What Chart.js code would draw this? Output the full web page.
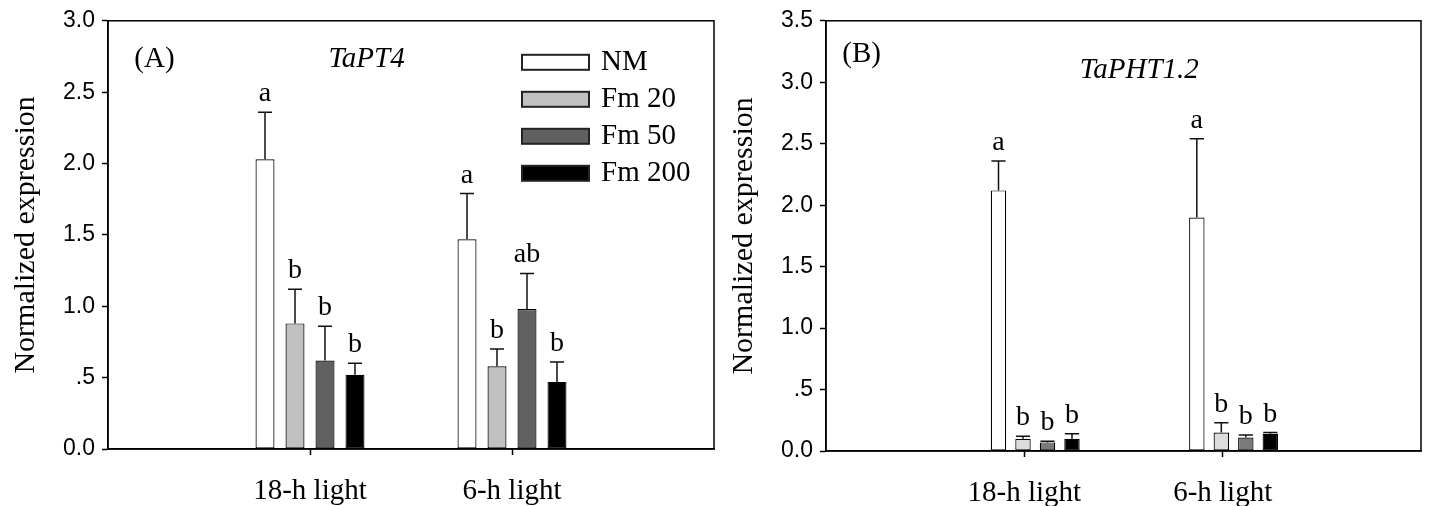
<!DOCTYPE html>
<html>
<head>
<meta charset="utf-8">
<title>TaPT4 / TaPHT1.2 expression</title>
<script src="https://cdn.jsdelivr.net/npm/chart.js@4.4.1/dist/chart.umd.min.js"></script>
<style>
  html, body { margin: 0; padding: 0; background: #fff; }
  #wrap { display: flex; width: 1430px; height: 506px; }
  canvas { display: block; }
</style>
</head>
<body>
<div id="wrap">
  <canvas id="chartA" width="718" height="506"></canvas>
  <canvas id="chartB" width="712" height="506"></canvas>
</div>
<script>
var groups = ['18-h light', '6-h light'];
var treatments = ['NM', 'Fm 20', 'Fm 50', 'Fm 200'];

// (A) TaPT4 - one row per treatment, one column per light regime
var meanA = [[2.03, 1.47], [0.88, 0.58], [0.62, 0.98], [0.52, 0.47]];
var errA = [[0.33, 0.32], [0.24, 0.12], [0.24, 0.25], [0.08, 0.14]];
var lettersA = [['a', 'a'], ['b', 'b'], ['b', 'ab'], ['b', 'b']];
var yTicksA = ['0.0', '.5', '1.0', '1.5', '2.0', '2.5', '3.0'];

// (B) TaPHT1.2
var meanB = [[2.12, 1.90], [0.10, 0.15], [0.07, 0.11], [0.10, 0.14]];
var errB = [[0.24, 0.64], [0.02, 0.08], [0.01, 0.02], [0.04, 0.01]];
var lettersB = [['a', 'a'], ['b', 'b'], ['b', 'b'], ['b', 'b']];
var yTicksB = ['0.0', '.5', '1.0', '1.5', '2.0', '2.5', '3.0', '3.5'];

var SERIF = '"Liberation Serif", "Times New Roman", serif';
var SANS = '"Liberation Sans", Arial, sans-serif';

// error bars, significance letters, frame, panel labels and legend
var extras = {
  id: 'extras',
  afterDatasetsDraw: function (chart, args, opts) {
    var ctx = chart.ctx, y = chart.scales.y;
    chart.data.datasets.forEach(function (ds, k) {
      chart.getDatasetMeta(k).data.forEach(function (bar, i) {
        var top = y.getPixelForValue(ds.data[i].y + ds.err[i]);
        var half = bar.width * opts.cap;
        ctx.save();
        ctx.strokeStyle = '#111';
        ctx.lineWidth = 1.5;
        ctx.beginPath();
        ctx.moveTo(bar.x, bar.y);
        ctx.lineTo(bar.x, top);
        ctx.moveTo(bar.x - half, top);
        ctx.lineTo(bar.x + half, top);
        ctx.stroke();
        ctx.fillStyle = '#000';
        ctx.font = '28px ' + SERIF;
        ctx.textAlign = 'center';
        ctx.textBaseline = 'alphabetic';
        ctx.fillText(ds.letters[i], bar.x, top - 11);
        ctx.restore();
      });
    });
  },
  afterDraw: function (chart, args, opts) {
    var ctx = chart.ctx, ca = chart.chartArea;
    var x = chart.scales.x, y = chart.scales.y;
    ctx.save();
    ctx.strokeStyle = '#000';
    ctx.lineWidth = 1.5;
    ctx.strokeRect(ca.left, ca.top, ca.right - ca.left, ca.bottom - ca.top);

    ctx.fillStyle = '#000';
    ctx.textAlign = 'center';
    ctx.textBaseline = 'middle';
    opts.notes.forEach(function (n) {
      ctx.font = (n.italic ? 'italic ' : '') + '29px ' + SERIF;
      ctx.fillText(n.text, x.getPixelForValue(n.x), y.getPixelForValue(n.y));
    });

    if (opts.legend) {
      var bx = ca.right - 192, by = ca.top + 34;
      ctx.textAlign = 'left';
      ctx.font = '29px ' + SERIF;
      chart.data.datasets.forEach(function (ds, k) {
        var top = by + k * 37;
        ctx.fillStyle = ds.backgroundColor;
        ctx.fillRect(bx, top, 67, 15);
        ctx.strokeStyle = '#222';
        ctx.lineWidth = 2;
        ctx.strokeRect(bx, top, 67, 15);
        ctx.fillStyle = '#000';
        ctx.fillText(ds.label, bx + 79, top + 8);
      });
    }
    ctx.restore();
  }
};

function makePanel(id, p) {
  var datasets = treatments.map(function (t, k) {
    return {
      label: t,
      data: groups.map(function (g, i) { return { x: i + 1, y: p.mean[k][i] }; }),
      err: p.err[k],
      letters: p.letters[k],
      backgroundColor: p.fills[k],
      borderColor: '#000',
      borderWidth: 1.2,
      borderSkipped: false,
      xAxisID: 'xb',
      categoryPercentage: p.catPct,
      barPercentage: p.barPct
    };
  });
  var groupTicks = function (axis) {
    axis.ticks = groups.map(function (g, i) { return { value: i + 1 }; });
  };
  return new Chart(document.getElementById(id), {
    type: 'bar',
    data: { datasets: datasets },
    options: {
      responsive: false,
      animation: false,
      layout: { padding: { top: 17, right: p.padRight, bottom: 0, left: 0 } },
      plugins: {
        legend: { display: false },
        tooltip: { enabled: false },
        extras: { cap: p.cap, legend: p.legend, notes: p.notes }
      },
      scales: {
        x: {
          type: 'linear',
          offset: false,
          min: 0,
          max: groups.length + 1,
          afterBuildTicks: groupTicks,
          afterFit: function (s) { s.height = p.xHeight; },
          ticks: {
            callback: function (v, i) { return groups[i]; },
            font: { family: SERIF, size: 29 },
            color: '#000',
            padding: 19,
            maxRotation: 0,
            autoSkip: false
          },
          grid: { offset: false, drawOnChartArea: false, tickLength: 6, tickColor: '#000', tickWidth: 1.5 },
          border: { color: '#000', width: 1.5 }
        },
        xb: {
          type: 'linear',
          display: false,
          offset: false,
          grid: { offset: false },
          min: -p.shift,
          max: groups.length + 1 - p.shift,
          afterBuildTicks: groupTicks
        },
        y: {
          min: 0,
          max: p.yMax,
          afterFit: function (s) { s.width = 108; },
          ticks: {
            stepSize: 0.5,
            callback: function (v, i) { return p.yTicks[i]; },
            font: { family: SANS, size: 23 },
            color: '#000',
            padding: 7
          },
          grid: { drawOnChartArea: false, tickLength: 6, tickColor: '#000', tickWidth: 1.5 },
          border: { color: '#000', width: 1.5 },
          title: {
            display: true,
            text: 'Normalized expression',
            font: { family: SERIF, size: 30 },
            color: '#000',
            padding: { top: 8, bottom: 0 }
          }
        }
      }
    },
    plugins: [extras]
  });
}

makePanel('chartA', {
  mean: meanA, err: errA, letters: lettersA, yTicks: yTicksA, yMax: 3,
  fills: ['#ffffff', '#c0c0c0', '#606060', '#000000'],
  catPct: 0.594, barPct: 0.633, cap: 0.37, shift: 0,
  padRight: 4, xHeight: 57, legend: true,
  notes: [
    { text: '(A)', x: 0.23, y: 2.73, italic: false },
    { text: 'TaPT4', x: 1.28, y: 2.73, italic: true }
  ]
});

makePanel('chartB', {
  mean: meanB, err: errB, letters: lettersB, yTicks: yTicksB, yMax: 3.5,
  fills: ['#ffffff', '#dcdcdc', '#7a7a7a', '#000000'],
  catPct: 0.494, barPct: 0.63, cap: 0.46, shift: 0.055,
  padRight: 9, xHeight: 55, legend: false,
  notes: [
    { text: '(B)', x: 0.18, y: 3.23, italic: false },
    { text: 'TaPHT1.2', x: 1.58, y: 3.1, italic: true }
  ]
});
</script>
</body>
</html>
